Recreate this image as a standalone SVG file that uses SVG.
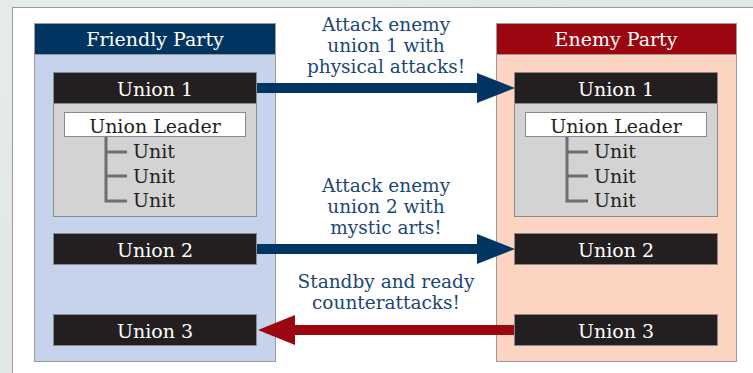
<svg xmlns="http://www.w3.org/2000/svg" width="753" height="373" viewBox="0 0 753 373">
<defs>
<linearGradient id="bg" x1="0" y1="0" x2="1" y2="1">
<stop offset="0" stop-color="#e6ecea"/>
<stop offset="0.5" stop-color="#dfe8e5"/>
<stop offset="1" stop-color="#e8eeec"/>
</linearGradient>
<style>
.t{font-family:"DejaVu Serif","Liberation Serif",serif;font-size:19px;text-anchor:middle}
.w{fill:#ffffff}
.k{fill:#231f20}
.lbl{fill:#1c4676;font-size:18.5px}
.ub{fill:#231f20;stroke:#8a8a8a;stroke-width:1}
.gb{fill:#d3d3d5;stroke:#8a8a8a;stroke-width:1}
.lb{fill:#ffffff;stroke:#8a8a8a;stroke-width:1}
.tree{fill:none;stroke:#6d6e70;stroke-width:3}
.pan{stroke:#9a9a9a;stroke-width:1}
</style>
</defs>
<rect x="0" y="0" width="753" height="373" fill="url(#bg)"/>
<rect x="12.5" y="7.5" width="750" height="380" fill="#ffffff" stroke="#9a9a9a" stroke-width="1"/>

<g id="friendly-party">
<rect class="pan" x="34.5" y="23.5" width="241" height="338" fill="#c5d4ec"/>
<rect class="pan" x="34.5" y="23.5" width="241" height="31" fill="#003562"/>
<text class="t w" x="155" y="46" font-size="18">Friendly Party</text>
</g>
<g id="f-union1">
<rect class="ub" x="53.5" y="72.5" width="203" height="31"/>
<text class="t w" x="155" y="96">Union 1</text>
<rect class="gb" x="53.5" y="103.5" width="203" height="113"/>
<rect class="lb" x="64.5" y="112.5" width="181" height="24"/>
<text class="t k" x="155" y="133">Union Leader</text>
<path class="tree" d="M106 137V201H127M106 152H127M106 176H127"/>
<text class="t k" x="133" y="158" text-anchor="start" style="text-anchor:start">Unit</text>
<text class="t k" x="133" y="183" style="text-anchor:start">Unit</text>
<text class="t k" x="133" y="207" style="text-anchor:start">Unit</text>
</g>
<g id="f-union2">
<rect class="ub" x="53.5" y="233.5" width="203" height="31"/>
<text class="t w" x="155" y="257">Union 2</text>
</g>
<g id="f-union3">
<rect class="ub" x="53.5" y="314.5" width="203" height="31"/>
<text class="t w" x="155" y="338">Union 3</text>
</g>

<g id="enemy-party">
<rect class="pan" x="496.5" y="23.5" width="240" height="338" fill="#fdd3c1"/>
<rect class="pan" x="496.5" y="23.5" width="240" height="31" fill="#9c0610"/>
<text class="t w" x="616" y="46" font-size="18">Enemy Party</text>
</g>
<g id="e-union1">
<rect class="ub" x="514.5" y="72.5" width="203" height="31"/>
<text class="t w" x="616" y="96">Union 1</text>
<rect class="gb" x="514.5" y="103.5" width="203" height="113"/>
<rect class="lb" x="525.5" y="112.5" width="181" height="24"/>
<text class="t k" x="616" y="133">Union Leader</text>
<path class="tree" d="M567 137V201H588M567 152H588M567 176H588"/>
<text class="t k" x="594" y="158" style="text-anchor:start">Unit</text>
<text class="t k" x="594" y="183" style="text-anchor:start">Unit</text>
<text class="t k" x="594" y="207" style="text-anchor:start">Unit</text>
</g>
<g id="e-union2">
<rect class="ub" x="514.5" y="233.5" width="203" height="31"/>
<text class="t w" x="616" y="257">Union 2</text>
</g>
<g id="e-union3">
<rect class="ub" x="514.5" y="314.5" width="203" height="31"/>
<text class="t w" x="616" y="338">Union 3</text>
</g>

<g id="connectors">
<path d="M257 83H477V73L515 88L477 103V93H257Z" fill="#003562"/>
<path d="M257 244H477V234L515 249L477 264V254H257Z" fill="#003562"/>
<path d="M514 325H295V315L258 330L295 345V335H514Z" fill="#9c0610"/>
<text class="t lbl" x="386" y="31">Attack enemy</text>
<text class="t lbl" x="386" y="52">union 1 with</text>
<text class="t lbl" x="386" y="73">physical attacks!</text>
<text class="t lbl" x="386" y="192">Attack enemy</text>
<text class="t lbl" x="386" y="213">union 2 with</text>
<text class="t lbl" x="386" y="234">mystic arts!</text>
<text class="t lbl" x="386" y="288">Standby and ready</text>
<text class="t lbl" x="386" y="309">counterattacks!</text>
</g>
</svg>
